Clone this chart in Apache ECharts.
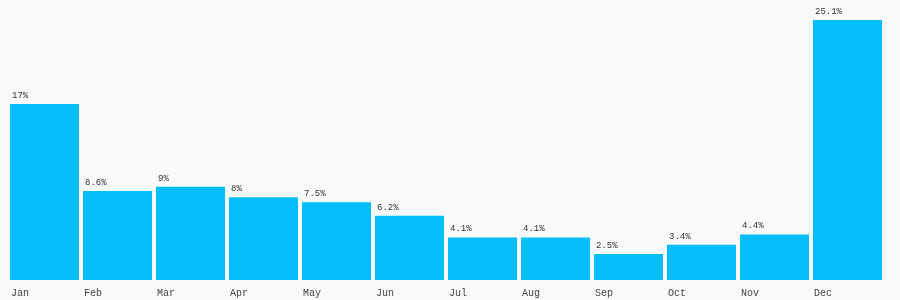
<!DOCTYPE html>
<html>
<head>
<meta charset="utf-8">
<style>
    html, body { margin: 0; padding: 0; background: #f8f9fb; }
    #chart { width: 900px; height: 300px; }
</style>
<script src="https://cdn.jsdelivr.net/npm/echarts@6/dist/echarts.min.js"></script>
</head>
<body>
<div id="chart"></div>
<script>
// monthly share (%)
const months = ['Jan', 'Feb', 'Mar', 'Apr', 'May', 'Jun', 'Jul', 'Aug', 'Sep', 'Oct', 'Nov', 'Dec'];
const shares = [17, 8.6, 9, 8, 7.5, 6.2, 4.1, 4.1, 2.5, 3.4, 4.4, 25.1];

const MONO = '"Liberation Mono", "DejaVu Sans Mono", monospace';

const chart = echarts.init(document.getElementById('chart'));
chart.setOption({
    backgroundColor: '#f8f9fb',
    animation: false,
    grid: {
        left: 8,
        right: 16,
        top: 20,
        bottom: 20
    },
    xAxis: {
        type: 'category',
        data: months,
        axisLine: { show: false },
        axisTick: { show: false },
        axisLabel: {
            margin: 8,
            formatter: v => '{a|' + v + '}',
            rich: {
                a: {
                    width: 69,
                    align: 'left',
                    padding: [0, 0, 0, 2],
                    fontFamily: MONO,
                    fontSize: 10,
                    color: '#444'
                }
            }
        }
    },
    yAxis: {
        type: 'value',
        min: 0,
        max: 25.1,
        show: false
    },
    series: [{
        type: 'bar',
        data: shares,
        barWidth: 69,
        itemStyle: { color: '#04befc' },
        label: {
            show: true,
            position: [2, -4],
            align: 'left',
            verticalAlign: 'bottom',
            formatter: p => p.value + '%',
            fontFamily: MONO,
            fontSize: 9,
            color: '#333'
        }
    }]
});
</script>
</body>
</html>
